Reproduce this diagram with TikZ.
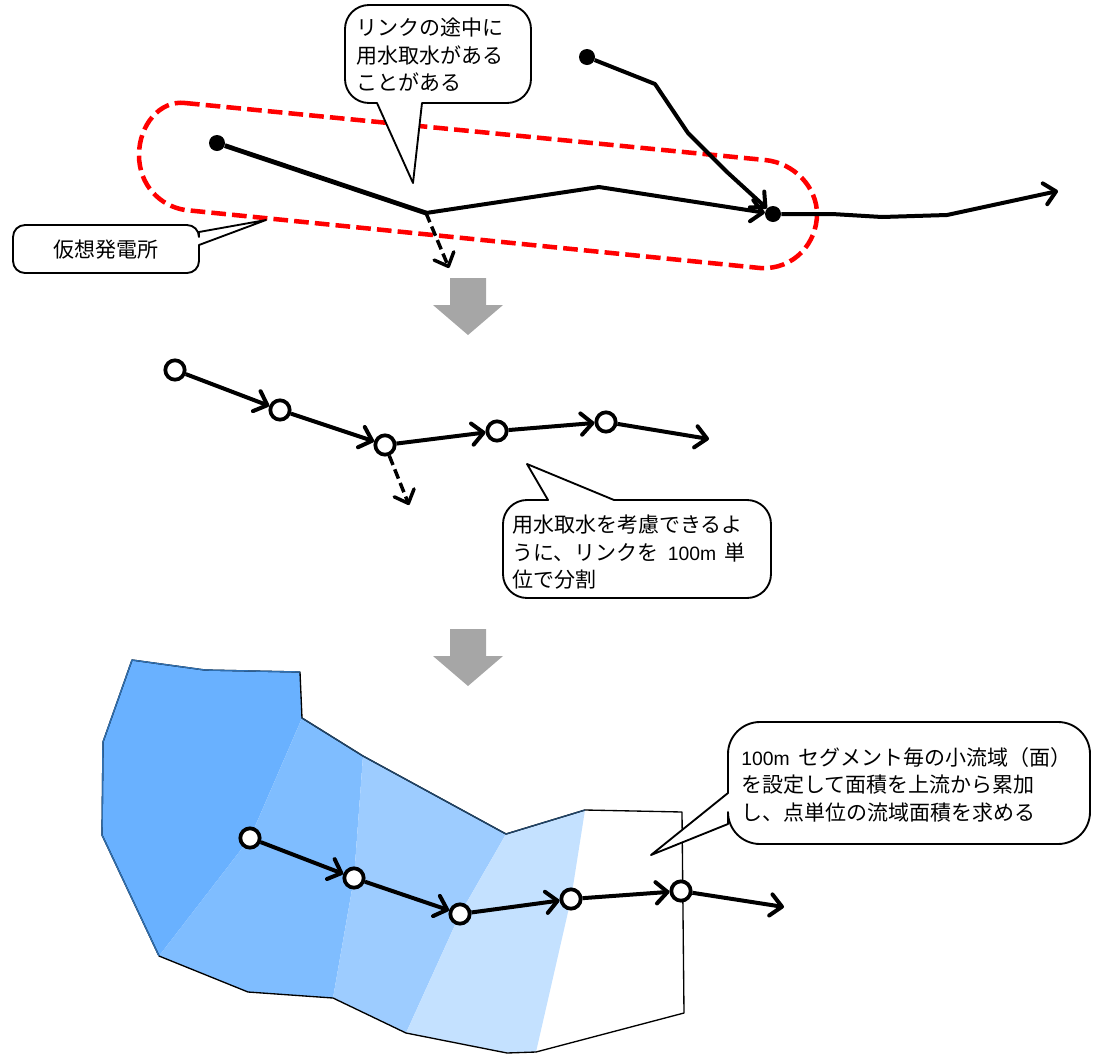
\documentclass[tikz,border=0pt]{standalone}
\usepackage{fontspec}
\setmainfont{Noto Sans CJK JP}
\newfontfamily\latinfont{Liberation Sans}
\usetikzlibrary{arrows.meta}
\definecolor{area1}{HTML}{69B1FF}
\definecolor{area2}{HTML}{7FBDFF}
\definecolor{area3}{HTML}{9DCCFF}
\definecolor{area4}{HTML}{C4E1FF}
\definecolor{edge1}{HTML}{2F6FB0}
\definecolor{edge2}{HTML}{1F4468}
\newcommand{\hm}{{\latinfont\fontsize{14.5}{20.6}\selectfont 100m}}
\tikzset{
	>={Straight Barb[length=8.5pt,width=16pt,round]},
	link/.style={draw=black, line width=3pt, line join=round},
	thicklink/.style={link, line width=3.6pt},
	branch/.style={draw=black, line width=2.6pt, dash pattern=on 7.5pt off 3.5pt},
	dot/.style={circle, fill=black, inner sep=0pt, minimum size=12pt},
	ring/.style={circle, draw=black, fill=white, line width=2.8pt, inner sep=0pt, minimum size=14.5pt},
	bubble/.style={draw=black, fill=white, line width=1.4pt, line join=round},
	label/.style={inner sep=0pt, align=left, font=\fontsize{15.75}{20.6}\selectfont},
}
\begin{document}
\begin{tikzpicture}[x=0.75pt, y=-0.75pt]
	\useasboundingbox (0, 0) rectangle (1101, 1054);

	% top: links and virtual plant
	\draw[red, line width=3.4pt, dash pattern=on 11pt off 4.6pt]
		(185, 103) -- (765, 160) .. controls (795, 163) and (817, 188) .. (817, 214)
		.. controls (817, 242) and (795, 270) .. (760, 268) -- (185, 210)
		.. controls (160, 206) and (139, 185) .. (139, 155)
		.. controls (139, 125) and (160, 100) .. (185, 103) -- cycle;
	\node[dot] (d1) at (217, 143) {};
	\node[dot] (d2) at (587, 57) {};
	\node[dot] (d3) at (773, 214) {};
	\coordinate (c1) at (426, 213);
	\coordinate (c2) at (599, 187);
	\coordinate (c3) at (655, 84);
	\coordinate (c4) at (688, 133);
	\coordinate (c5) at (727, 172);
	\coordinate (c6) at (832, 214);
	\coordinate (c7) at (882, 217);
	\coordinate (c8) at (947, 215);
	\coordinate (c9) at (1058, 191);
	\coordinate (c10) at (449, 268);
	\draw[thicklink] (d1) -- (c1);
	\draw[link, ->] (c1) -- (c2) -- (d3);
	\draw[link, ->] (d2) -- (c3) -- (c4) -- (c5) -- (d3);
	\draw[link, ->] (d3) -- (c6) -- (c7) -- (c8) -- (c9);
	\draw[branch, ->] (c1) -- (c10);

	\draw[bubble] (422, 103) [rounded corners=18] -- (531, 103) -- (531, 5) -- (345, 5) -- (345, 103)
		[sharp corners] -- (377, 103) -- (413, 183) -- cycle;
	\node[label, anchor=north west] (t1) at (356, 18) {リンクの途中に\\用水取水がある\\ことがある};
	\draw[bubble] (199, 245) [rounded corners=9] -- (199, 273) -- (13, 273) -- (13, 225) -- (199, 225)
		[sharp corners] -- (199, 232) -- (266, 220) -- cycle;
	\node[label] (t2) at (106, 250) {仮想発電所};

	% block arrows
	\foreach \y in {278, 629} {
		\fill[black!35] (450, \y) -- (486, \y) -- (486, \y+27) -- (503, \y+27) -- (468, \y+57)
			-- (433, \y+27) -- (450, \y+27) -- cycle;
	}

	% middle: split into segments
	\node[ring] (m1) at (175, 370) {};
	\node[ring] (m2) at (280, 410) {};
	\node[ring] (m3) at (385, 445) {};
	\node[ring] (m4) at (497, 431) {};
	\node[ring] (m5) at (606, 422) {};
	\coordinate (m6) at (709, 439);
	\coordinate (m7) at (409, 505);
	\draw[link, ->] (m1) -- (m2);
	\draw[link, ->] (m2) -- (m3);
	\draw[link, ->] (m3) -- (m4);
	\draw[link, ->] (m4) -- (m5);
	\draw[link, ->] (m5) -- (m6);
	\draw[branch, ->] (m3) -- (m7);

	\draw[bubble] (614, 500) [rounded corners=18] -- (771, 500) -- (771, 598) -- (503, 598) -- (503, 500)
		[sharp corners] -- (548, 500) -- (527, 464) -- cycle;
	\node[label, anchor=north west] (t3) at (512, 515) {用水取水を考慮できるよ\\うに、リンクを\hspace{7pt}\hm\hspace{6pt}単\\位で分割};

	% bottom: small catchments
	\fill[area1] (132, 660) -- (205, 670) -- (300, 672) -- (302, 718) -- (250, 838) -- (159, 956)
		-- (102, 835) -- (103, 742) -- cycle;
	\fill[area2] (302, 718) -- (363, 756) -- (354, 878) -- (333, 998) -- (248, 992) -- (159, 956)
		-- (250, 838) -- cycle;
	\fill[area3] (363, 756) -- (506, 834) -- (460, 914) -- (406, 1033) -- (333, 998) -- (354, 878) -- cycle;
	\fill[area4] (506, 834) -- (585, 810) -- (571, 899) -- (536, 1052) -- (507, 1053) -- (406, 1033)
		-- (460, 914) -- cycle;
	\draw[line width=1pt, line join=round] (132, 660) -- (205, 670) -- (300, 672) -- (302, 718) -- (363, 756)
		-- (506, 834) -- (585, 810) -- (682, 812) -- (684, 1013) -- (536, 1052) -- (507, 1053)
		-- (406, 1033) -- (333, 998) -- (248, 992) -- (159, 956) -- (102, 835) -- (103, 742) -- cycle;
	\draw[edge1, line width=1pt, line join=round] (159, 956) -- (102, 835) -- (103, 742)
		-- (132, 660) -- (205, 670) -- (300, 672);
	\draw[edge2, line width=1pt, line join=round] (302, 718) -- (363, 756) -- (506, 834) -- (585, 810);
	\node[ring] (b1) at (250, 838) {};
	\node[ring] (b2) at (354, 878) {};
	\node[ring] (b3) at (460, 914) {};
	\node[ring] (b4) at (571, 899) {};
	\node[ring] (b5) at (681, 891) {};
	\coordinate (b6) at (784, 907);
	\draw[link, ->] (b1) -- (b2);
	\draw[link, ->] (b2) -- (b3);
	\draw[link, ->] (b3) -- (b4);
	\draw[link, ->] (b4) -- (b5);
	\draw[link, ->] (b5) -- (b6);

	\draw[bubble] (728, 824) [rounded corners=24] -- (728, 844) -- (1090, 844) -- (1090, 722) -- (728, 722)
		[sharp corners] -- (728, 793) -- (651, 855) -- cycle;
	\node[label, anchor=north west] (t4) at (741, 747) {\hm\hspace{7pt}セグメント毎の小流域（面）\\を設定して面積を上流から累加\\し、点単位の流域面積を求める};
\end{tikzpicture}
\end{document}
